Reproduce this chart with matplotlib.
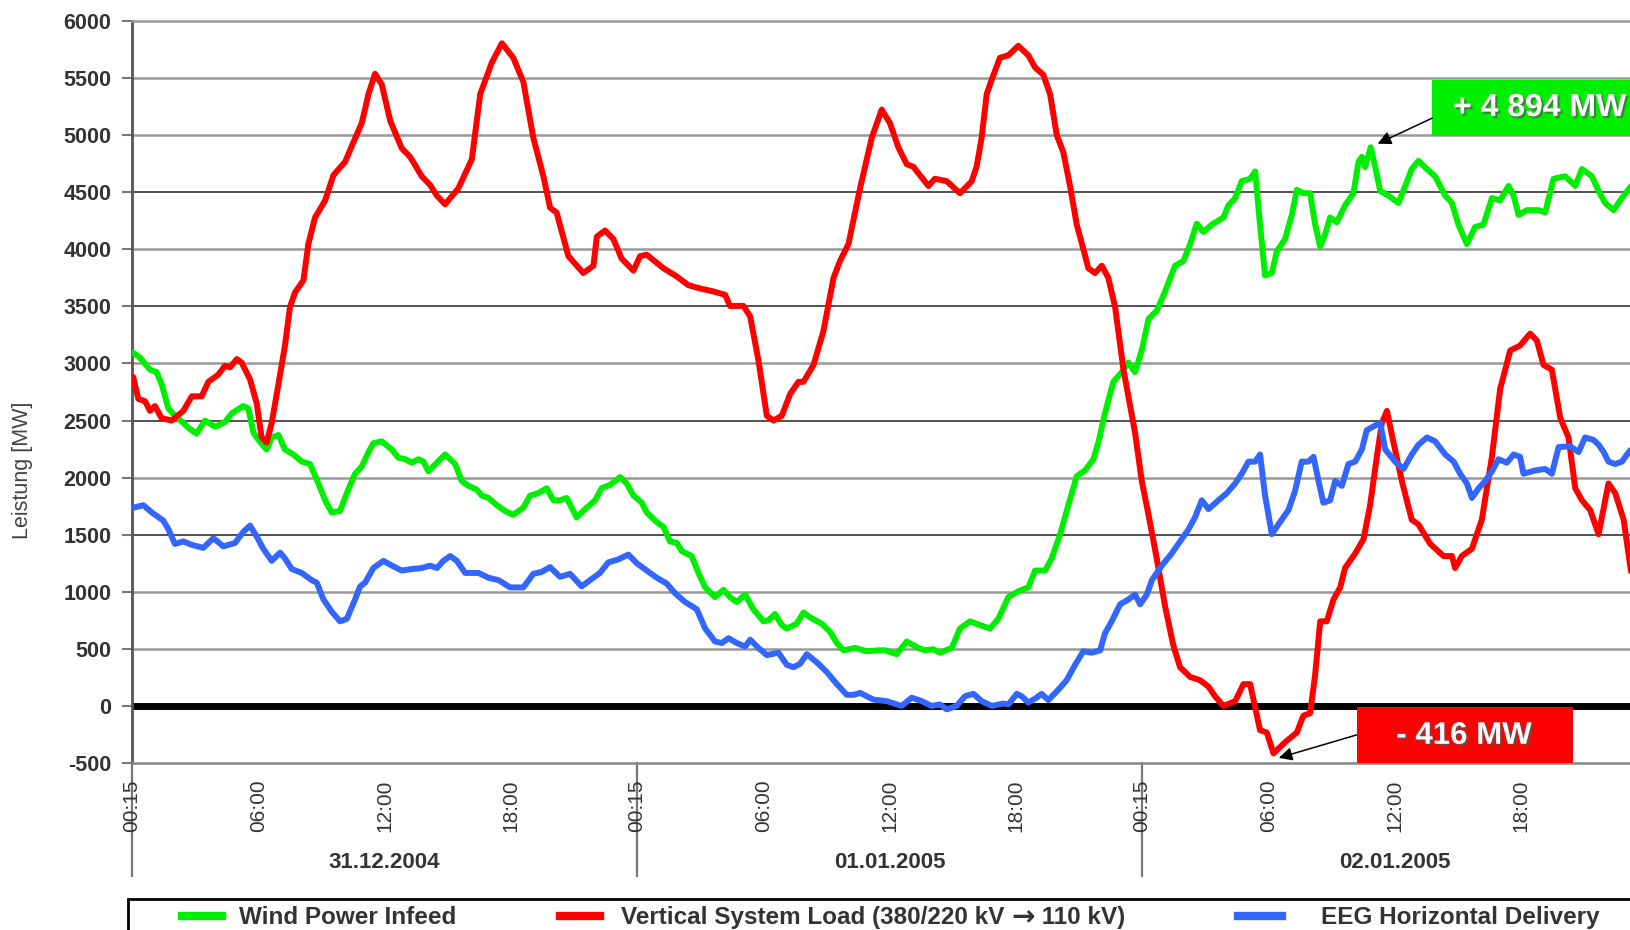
import matplotlib
matplotlib.use("Agg")
import matplotlib.pyplot as plt
import matplotlib.patheffects as pe
from matplotlib.patches import Rectangle
from matplotlib.lines import Line2D

plt.rcParams['font.family'] = ['Liberation Sans', 'DejaVu Sans']

# --- data: hours since 31.12.2004 00:15, values in MW ---
wind_h = [0.06, 0.38, 0.86, 1.17, 1.41, 1.73, 2.04, 2.44, 2.68, 3.07, 3.47, 3.95, 4.42, 4.74, 5.29, 5.53, 5.77, 6.01,
          6.4, 6.64, 6.96, 7.27, 7.67, 8.07, 8.46, 8.86, 9.18, 9.49, 9.89, 10.21, 10.6, 10.92, 11.24, 11.47, 11.87,
          12.35, 12.66, 12.98, 13.3, 13.61, 13.85, 14.09, 14.49, 14.88, 15.36, 15.67, 15.99, 16.39, 16.62, 16.94,
          17.34, 17.73, 18.12, 18.6, 18.92, 19.31, 19.71, 20.03, 20.34, 20.66, 21.13, 21.61, 22.01, 22.32, 22.72,
          23.2, 23.51, 23.83, 24.23, 24.46, 24.94, 25.26, 25.57, 25.89, 26.13, 26.6, 26.92, 27.24, 27.71, 28.11,
          28.42, 28.74, 29.14, 29.53, 30.01, 30.25, 30.56, 30.88, 31.12, 31.59, 31.91, 32.23, 32.78, 33.18, 33.5,
          33.81, 34.37, 34.92, 35.48, 35.79, 36.34, 36.82, 37.37, 37.69, 38.08, 38.4, 38.96, 39.35, 39.83, 40.3,
          40.78, 41.17, 41.65, 42.12, 42.6, 42.92, 43.39, 43.71, 44.11, 44.5, 44.9, 45.29, 45.69, 45.93, 46.24,
          46.64, 47.04, 47.35, 47.67, 47.99, 48.31, 48.7, 49.1, 49.57, 49.97, 50.29, 50.6, 50.92, 51.32, 51.87,
          52.11, 52.43, 52.74, 53.14, 53.38, 53.61, 53.85, 54.17, 54.41, 54.8, 55.12, 55.36, 55.67, 55.99, 56.23,
          56.47, 56.7, 56.94, 57.26, 57.65, 58.05, 58.29, 58.45, 58.6, 58.87, 59.08, 59.32, 59.71, 60.19, 60.51,
          60.82, 61.14, 61.54, 61.93, 62.41, 62.73, 63.04, 63.44, 63.83, 64.23, 64.63, 65.02, 65.42, 65.66, 65.9,
          66.29, 66.85, 67.16, 67.56, 68.11, 68.59, 68.91, 69.38, 69.7, 70.01, 70.41, 70.81, 71.25]
wind_mw = [3093, 3051, 2945, 2924, 2818, 2606, 2542, 2479, 2436, 2385, 2500, 2445, 2487, 2563, 2627, 2606, 2394, 2330,
           2246, 2352, 2373, 2246, 2203, 2140, 2119, 1949, 1801, 1695, 1708, 1864, 2034, 2097, 2224, 2301, 2318,
           2246, 2174, 2161, 2131, 2161, 2140, 2055, 2131, 2203, 2119, 1970, 1928, 1894, 1843, 1822,
           1758, 1708, 1674, 1737, 1843, 1864, 1907, 1801, 1801, 1822, 1652, 1737, 1801, 1907, 1936,
           2004, 1949, 1843, 1780, 1695, 1610, 1568, 1441, 1428, 1356, 1313, 1165, 1038, 953, 1017,
           953, 911, 975, 847, 741, 750, 805, 708, 678, 720, 818, 775, 720, 648, 551,
           487, 508, 479, 487, 487, 453, 564, 508, 487, 496, 466, 508, 678, 741, 708,
           678, 763, 953, 1004, 1038, 1186, 1186, 1292, 1504, 1758, 2013, 2063, 2161, 2309, 2563,
           2839, 2924, 3008, 2924, 3114, 3390, 3462, 3631, 3856, 3898, 4046, 4224, 4152, 4216, 4279,
           4385, 4449, 4597, 4618, 4682, 4216, 3771, 3792, 3983, 4089, 4301, 4521, 4491, 4491, 4216,
           4025, 4131, 4279, 4237, 4385, 4491, 4767, 4810, 4720, 4894, 4724, 4512, 4470, 4406, 4555,
           4703, 4775, 4703, 4640, 4470, 4406, 4216, 4046, 4195, 4216, 4449, 4428, 4555, 4470, 4301,
           4343, 4343, 4322, 4618, 4640, 4555, 4703, 4640, 4512, 4406, 4343, 4449, 4555]

load_h = [0.06, 0.3, 0.62, 0.86, 1.09, 1.41, 1.89, 2.44, 2.84, 3.31, 3.63, 4.1, 4.42, 4.66, 4.98, 5.21, 5.61, 5.93,
          6.16, 6.4, 6.64, 6.96, 7.27, 7.51, 7.75, 8.15, 8.38, 8.7, 9.18, 9.57, 10.13, 10.52, 10.92, 11.24, 11.55,
          11.87, 12.27, 12.82, 13.22, 13.77, 14.17, 14.49, 14.88, 15.51, 16.15, 16.55, 17.1, 17.58, 18.12, 18.6,
          19.07, 19.55, 19.87, 20.18, 20.74, 21.45, 21.93, 22.09, 22.48, 22.88, 23.27, 23.83, 24.15, 24.46, 25.26,
          25.89, 26.44, 27.0, 27.63, 28.19, 28.42, 29.06, 29.38, 29.77, 30.17, 30.49, 30.88, 31.28, 31.67, 31.91,
          32.39, 32.86, 33.34, 33.65, 34.05, 34.6, 35.16, 35.63, 36.02, 36.42, 36.82, 37.13, 37.85, 38.16, 38.72,
          39.35, 39.91, 40.14, 40.38, 40.62, 40.86, 41.25, 41.65, 42.12, 42.6, 42.92, 43.31, 43.63, 43.95, 44.26,
          44.58, 44.9, 45.21, 45.45, 45.77, 46.09, 46.4, 46.72, 47.12, 47.67, 47.99, 48.31, 48.7, 49.1, 49.49,
          49.81, 50.29, 50.76, 51.16, 51.47, 51.87, 52.43, 52.82, 53.14, 53.61, 53.93, 54.25, 54.8, 55.36, 55.67,
          55.99, 56.23, 56.47, 56.78, 57.1, 57.42, 57.65, 58.13, 58.53, 58.84, 59.16, 59.4, 59.64, 59.95, 60.35,
          60.82, 61.14, 61.7, 62.33, 62.73, 62.88, 63.2, 63.68, 64.15, 64.63, 65.02, 65.5, 65.97, 66.45, 66.77,
          67.08, 67.48, 67.88, 68.27, 68.59, 68.91, 69.3, 69.7, 70.17, 70.49, 70.89, 71.25]
load_mw = [2881, 2690, 2669, 2585, 2627, 2521, 2500, 2585, 2712, 2712, 2839, 2902, 2979, 2966, 3038, 3008, 2860, 2648,
           2352, 2309, 2479, 2818, 3157, 3496, 3623, 3729, 4046, 4279, 4428, 4648, 4767, 4936, 5106, 5360, 5538,
           5444, 5127, 4885, 4809, 4640, 4563, 4470, 4394, 4534, 4788, 5360, 5635, 5805, 5678, 5466,
           4979, 4640, 4364, 4322, 3940, 3792, 3856, 4110, 4165, 4089, 3919, 3813, 3940, 3953, 3834,
           3762, 3686, 3657, 3631, 3601, 3504, 3504, 3411, 3029, 2542, 2500, 2542, 2733, 2839, 2839,
           2987, 3284, 3750, 3898, 4046, 4534, 4979, 5224, 5106, 4894, 4745, 4724, 4555, 4618, 4597,
           4491, 4597, 4724, 4979, 5360, 5487, 5678, 5699, 5783, 5699, 5593, 5529, 5360, 5000, 4851,
           4555, 4216, 4004, 3834, 3792, 3856, 3750, 3496, 2945, 2394, 1970, 1674, 1292, 869, 530,
           339, 254, 225, 169, 85, 0, 42, 191, 191, -212, -233, -416, -318, -233, -85,
           -64, 275, 741, 741, 932, 1038, 1208, 1335, 1462, 1758, 2182, 2479, 2585, 2309, 1970,
           1631, 1589, 1419, 1313, 1313, 1208, 1313, 1377, 1631, 2182, 2775, 3114, 3157, 3262, 3199,
           2987, 2945, 2521, 2352, 1907, 1801, 1716, 1504, 1949, 1864, 1631, 1165]

eeg_h = [0.06, 0.54, 0.94, 1.49, 1.73, 2.04, 2.44, 2.84, 3.39, 3.87, 4.34, 4.9, 5.29, 5.61, 5.93, 6.24, 6.64, 7.04,
         7.27, 7.59, 8.07, 8.54, 8.78, 9.1, 9.49, 9.89, 10.21, 10.6, 10.84, 11.08, 11.47, 11.95, 12.35, 12.82, 13.3,
         13.77, 14.17, 14.49, 14.8, 15.12, 15.44, 15.83, 16.47, 16.94, 17.42, 17.97, 18.6, 19.07, 19.47, 19.87,
         20.34, 20.82, 21.37, 21.77, 22.24, 22.64, 23.12, 23.59, 23.99, 24.46, 24.94, 25.41, 25.81, 26.28, 26.84,
         27.24, 27.71, 28.03, 28.35, 28.74, 29.14, 29.38, 29.77, 30.17, 30.72, 31.12, 31.44, 31.75, 32.07, 32.55,
         33.02, 33.5, 33.97, 34.29, 34.61, 34.92, 35.24, 35.86, 36.58, 37.05, 37.53, 38.0, 38.4, 38.72, 39.19,
         39.59, 39.99, 40.38, 40.86, 41.41, 41.65, 42.05, 42.28, 42.6, 42.92, 43.23, 43.55, 43.95, 44.42, 44.82,
         45.21, 45.61, 46.01, 46.24, 46.56, 46.96, 47.35, 47.67, 47.91, 48.23, 48.47, 48.94, 49.41, 49.81, 50.21,
         50.52, 50.84, 51.16, 51.63, 52.03, 52.43, 52.74, 53.06, 53.38, 53.61, 53.85, 54.17, 54.48, 54.96, 55.28,
         55.59, 55.91, 56.15, 56.39, 56.62, 56.94, 57.18, 57.5, 57.81, 58.13, 58.45, 58.68, 59.08, 59.32, 59.56,
         60.03, 60.43, 60.82, 61.14, 61.54, 61.93, 62.41, 62.81, 63.12, 63.44, 63.68, 64.0, 64.31, 64.63, 64.94,
         65.34, 65.66, 65.97, 66.13, 66.69, 67.16, 67.48, 67.8, 68.35, 68.75, 69.06, 69.46, 69.7, 69.94, 70.17,
         70.49, 70.81, 71.05, 71.25]
eeg_mw = [1737, 1758, 1695, 1623, 1547, 1419, 1441, 1411, 1385, 1470, 1398, 1428, 1525, 1580, 1483, 1377, 1271, 1343,
          1292, 1199, 1165, 1102, 1080, 932, 826, 741, 763, 932, 1047, 1080, 1208, 1271, 1229, 1186, 1199,
          1208, 1229, 1208, 1271, 1313, 1271, 1165, 1165, 1123, 1102, 1038, 1038, 1157, 1174, 1216,
          1131, 1157, 1047, 1102, 1165, 1258, 1284, 1326, 1250, 1186, 1123, 1072, 987, 911, 847,
          678, 564, 551, 593, 551, 521, 580, 508, 445, 466, 360, 339, 369, 453, 381,
          297, 191, 97, 97, 114, 85, 55, 42, 0, 72, 42, 0, 13, -30, 0,
          85, 106, 42, 0, 21, 13, 106, 85, 30, 64, 106, 51, 127, 225, 360,
          479, 466, 487, 636, 741, 890, 932, 975, 890, 975, 1102, 1229, 1335, 1441, 1547,
          1652, 1801, 1724, 1801, 1864, 1949, 2034, 2140, 2140, 2203, 1843, 1504, 1589, 1716, 1886,
          2140, 2140, 2182, 1970, 1780, 1801, 1970, 1928, 2119, 2140, 2246, 2415, 2457, 2479, 2246,
          2140, 2076, 2203, 2288, 2352, 2318, 2203, 2140, 2034, 1949, 1822, 1907, 1970, 2055, 2161,
          2131, 2203, 2182, 2034, 2063, 2076, 2034, 2267, 2275, 2224, 2352, 2330, 2288, 2224, 2140,
          2119, 2140, 2203, 2246]

# legend names; the middle one is split around its arrow glyph
series_names = [['Wind Power Infeed'],
                ['Vertical System Load (380/220 kV ', '\u2192', ' 110 kV)'],
                ['EEG Horizontal Delivery']]
series_colors = ['#00ee00', '#ff0000', '#3366ff']

tick_hours = [0, 6, 12, 18, 24, 30, 36, 42, 48, 54, 60, 66]
tick_labels = ['00:15', '06:00', '12:00', '18:00'] * 3
day_starts = [0, 24, 48]
day_labels = ['31.12.2004', '01.01.2005', '02.01.2005']
y_ticks = list(range(-500, 6001, 500))

W, H = 1631, 930
fig = plt.figure(figsize=(W / 100, H / 100), dpi=100)
fig.patch.set_facecolor('white')
# axes run past the right edge of the picture (chart is cropped there)
ax = fig.add_axes([132 / W, 167 / H, 1515 / W, 742 / H])
ax.set_xlim(0, 72)
ax.set_ylim(-500, 6000)

# horizontal grid, some lines darker as in the scanned original
dark = {1500, 2500, 3500, 4500}
for v in y_ticks:
    if v in (-500, 0, 6000):
        continue
    if v in dark:
        ax.axhline(v, color='#222222', lw=1.1, zorder=1)
    else:
        ax.axhline(v, color='#999999', lw=1.8, zorder=1)
ax.axhline(0, color='black', lw=5, zorder=2)

ax.spines['right'].set_visible(False)
ax.spines['top'].set_color('#999999')
ax.spines['top'].set_linewidth(1.8)
ax.spines['bottom'].set_color('#888888')
ax.spines['bottom'].set_linewidth(1.8)
ax.spines['left'].set_color('#555555')
ax.spines['left'].set_linewidth(2)

for h, v, c in zip([wind_h, load_h, eeg_h], [wind_mw, load_mw, eeg_mw], series_colors):
    ax.plot(h, v, color=c, lw=4.3, solid_joinstyle='round', solid_capstyle='round', zorder=3)

ax.set_yticks(y_ticks)
ax.set_yticklabels([str(v) for v in y_ticks], fontsize=15.5, fontweight='bold', color='#333333')
ax.tick_params(axis='y', length=7, width=1.5, color='#777777', pad=8)
ax.set_xticks(tick_hours)
ax.set_xticklabels(tick_labels, rotation=90, fontsize=15, color='#333333')
ax.tick_params(axis='x', length=0, pad=12)

xt = ax.get_xaxis_transform()
for d in day_starts:
    ax.plot([d, d], [0, -0.152], transform=xt, color='#777777', lw=1.6, clip_on=False, zorder=1)
for d, lab in zip(day_starts, day_labels):
    ax.text(d + 12, -0.134, lab, transform=xt, ha='center', va='center', fontsize=16,
            fontweight='bold', color='#333333')

fig.text(23 / W, 1 - 470 / H, 'Leistung [MW]', rotation=90, ha='center', va='center',
         fontsize=15.5, color='#444444')

# annotation boxes
shadow = [pe.SimplePatchShadow(offset=(1.5, -1.5), shadow_rgbFace='#555555', alpha=0.7), pe.Normal()]
ax.add_patch(Rectangle((61.8, 4990), 12, 495, facecolor='#00ee00', edgecolor='none', zorder=5, clip_on=False))
ax.text(66.9, 5237, '+ 4 894 MW', color='white', fontsize=23, fontweight='bold', ha='center', va='center',
        zorder=6, path_effects=shadow)
ax.annotate('', xy=(59.2, 4925), xytext=(61.8, 5150), zorder=6,
            arrowprops=dict(arrowstyle='-|>', color='black', lw=1.1, mutation_scale=20, shrinkA=0, shrinkB=0))

ax.add_patch(Rectangle((58.2, -500), 10.3, 490, facecolor='#ff0000', edgecolor='none', zorder=5))
ax.text(63.3, -262, '- 416 MW', color='white', fontsize=22.5, fontweight='bold', ha='center', va='center',
        zorder=6, path_effects=shadow)
ax.annotate('', xy=(54.5, -455), xytext=(58.2, -254), zorder=6,
            arrowprops=dict(arrowstyle='-|>', color='black', lw=1.1, mutation_scale=20, shrinkA=0, shrinkB=0))

# legend box (cut off at the bottom/right like the original)
fig.add_artist(Rectangle((128 / W, -0.05), 1.0, 0.05 + 31 / H, transform=fig.transFigure,
                         fill=False, edgecolor='black', lw=2))
leg_line_x = [(182, 222), (560, 600), (1238, 1282)]
leg_text_x = [239, 621, 1321]
legend_size = 17.5
renderer = fig.canvas.get_renderer()
for (x0, x1), tx, parts, c in zip(leg_line_x, leg_text_x, series_names, series_colors):
    fig.add_artist(Line2D([x0 / W, x1 / W], [14 / H, 14 / H], transform=fig.transFigure, color=c, lw=6))
    x = tx
    for part in parts:
        is_arrow = part == '\u2192'
        t = fig.text(x / W, 13 / H, part, ha='left', va='center',
                     fontsize=legend_size * 1.15 if is_arrow else legend_size, fontweight='bold',
                     color='#333333', family='DejaVu Sans' if is_arrow else 'Liberation Sans')
        x += t.get_window_extent(renderer).width

fig.savefig('out.png', dpi=100)
